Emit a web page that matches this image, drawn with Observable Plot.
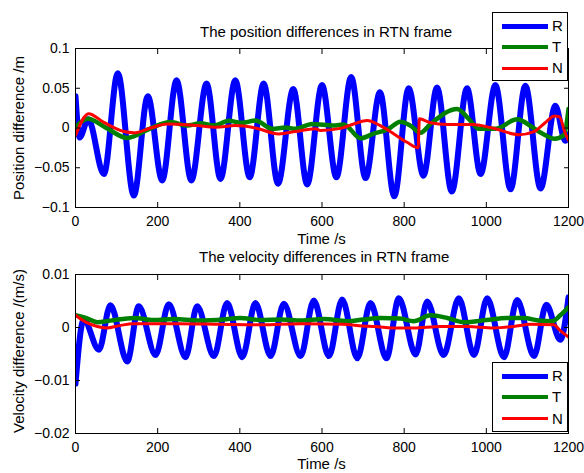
<!DOCTYPE html>
<html>
<head>
<meta charset="utf-8">
<script src="https://cdn.jsdelivr.net/npm/d3@7"></script>
<script src="https://cdn.jsdelivr.net/npm/@observablehq/plot@0.6"></script>
<style>
  html, body { margin: 0; padding: 0; background: #fff; }
  body { font-family: "Liberation Sans", Arial, Helvetica, sans-serif; color: #000; }
  #fig { position: relative; width: 584px; height: 473px; overflow: hidden; background: #fff; }
  .panel { position: absolute; left: 0; }
  .panel svg { display: block; }
  .txt { position: absolute; font-size: 15px; line-height: 15px; white-space: nowrap; }
  .center { transform: translateX(-50%); }
  .ylab { position: absolute; font-size: 15px; line-height: 15px; white-space: nowrap; transform: translate(-50%, -50%) rotate(-90deg); }
  .legend { position: absolute; box-sizing: border-box; border: 1px solid #000; background: #fff; }
  .legend .sample { position: absolute; left: 9px; width: 46px; }
  .legend .name { position: absolute; left: 59px; font-size: 15px; line-height: 15px; }
</style>
</head>
<body>
<div id="fig"></div>
<script>
// ---------- data ----------
const timeTicks = [0, 200, 400, 600, 800, 1000, 1200];
const timeTickLabels = ["0", "200", "400", "600", "800", "1000", "1200"];
const posTicks = [-0.1, -0.05, 0, 0.05, 0.1];
const posTickLabels = ["\u22120.1", "\u22120.05", "0", "0.05", "0.1"];
const velTicks = [-0.02, -0.01, 0, 0.01];
const velTickLabels = ["\u22120.02", "\u22120.01", "0", "0.01"];

const seriesNames = ["R", "T", "N"];
const seriesColors = ["#0000ff", "#008000", "#ff0000"];
const lineWidths = [6, 4.5, 3];
const legendWidths = [5, 4, 3];

// Position differences (m)
const posR_t = [0, 10, 31, 69, 103, 142, 176, 211, 246, 282, 319, 353, 389, 424, 458, 493, 530, 564, 600, 635, 671, 706, 741, 776, 811, 847, 880, 916, 953, 986, 1022, 1059, 1095, 1132, 1168, 1192, 1200];
const posR_v = [0.040, -0.012, 0.011, -0.058, 0.069, -0.085, 0.040, -0.066, 0.060, -0.066, 0.056, -0.064, 0.060, -0.062, 0.056, -0.070, 0.049, -0.071, 0.054, -0.062, 0.064, -0.063, 0.045, -0.086, 0.050, -0.060, 0.051, -0.080, 0.050, -0.058, 0.054, -0.077, 0.053, -0.076, 0.028, -0.016, -0.008];

const posT_t = [0, 30, 75, 126, 180, 231, 272, 304, 337, 373, 406, 438, 479, 511, 535, 576, 629, 653, 694, 726, 759, 791, 815, 840, 864, 929, 957, 982, 1022, 1075, 1112, 1136, 1166, 1189, 1200];
const posT_v = [0.001, 0.0115, 0.000, -0.0125, -0.001, 0.0075, 0.003, 0.006, 0.003, 0.009, 0.0065, 0.0095, -0.001, 0.0005, -0.001, 0.005, 0.003, 0.0045, -0.013, -0.007, -0.002, 0.008, 0.003, -0.006, 0.005, 0.024, 0.0115, -0.001, -0.001, 0.011, 0.001, -0.007, -0.0135, -0.009, 0.024];

const posN_t = [0, 32, 69, 118, 142, 183, 223, 296, 341, 389, 438, 495, 535, 584, 596, 645, 677, 710, 742, 775, 807, 834, 837, 864, 905, 966, 1022, 1079, 1116, 1144, 1166, 1178, 1191, 1200];
const posN_v = [-0.0095, 0.018, 0.007, -0.0045, -0.006, 0.000, 0.005, 0.003, 0.001, 0.003, 0.000, -0.0075, -0.0045, -0.001, -0.003, -0.0005, 0.005, 0.0095, 0.003, -0.0075, -0.018, -0.025, 0.0115, 0.0065, 0.0045, 0.0044, -0.001, -0.0085, -0.0045, 0.007, 0.015, 0.014, -0.005, -0.0155];

// Velocity differences (m/s)
const velR_t = [0, 20, 57, 85, 126, 154, 195, 227, 268, 296, 337, 369, 406, 438, 475, 507, 548, 580, 617, 649, 686, 718, 757, 787, 828, 856, 896, 933, 970, 1002, 1043, 1075, 1116, 1146, 1180, 1200];
const velR_v = [-0.0106, 0.0015, -0.0042, 0.0042, -0.0064, 0.0040, -0.0052, 0.0044, -0.0056, 0.0040, -0.0054, 0.0046, -0.0056, 0.0046, -0.0054, 0.0045, -0.0054, 0.0051, -0.0054, 0.0053, -0.0058, 0.0046, -0.0058, 0.0055, -0.0051, 0.0049, -0.0052, 0.0055, -0.0052, 0.0055, -0.0056, 0.0052, -0.0054, 0.0043, -0.0023, 0.0057];

const velT_t = [0, 25, 53, 85, 142, 190, 240, 300, 360, 400, 450, 500, 550, 604, 661, 700, 742, 790, 823, 864, 905, 945, 1000, 1050, 1090, 1130, 1160, 1180, 1200];
const velT_v = [0.0023, 0.0018, 0.0010, 0.0013, 0.0018, 0.0014, 0.0016, 0.0013, 0.0015, 0.0018, 0.0014, 0.0015, 0.0013, 0.0016, 0.0012, 0.0015, 0.0018, 0.0017, 0.0012, 0.0023, 0.0018, 0.0010, 0.0014, 0.0018, 0.0018, 0.0013, 0.0012, 0.0023, 0.0038];

const velN_t = [0, 25, 53, 75, 110, 140, 250, 350, 450, 550, 650, 700, 726, 787, 823, 888, 953, 1018, 1067, 1107, 1164, 1180, 1200];
const velN_v = [0.0023, 0.0010, 0.0002, -0.0001, 0.0004, 0.0007, 0.0007, 0.0006, 0.0005, 0.0007, 0.0006, 0.0003, 0.0002, -0.0001, -0.0001, 0.0002, 0.0002, -0.0001, 0.0002, 0.0006, 0.0005, -0.0006, -0.0018];

// ---------- drawing ----------
const FONT = '"Liberation Sans", Arial, Helvetica, sans-serif';
const pick = (ticks, labels) => d => { const i = ticks.indexOf(d); return i < 0 ? "" : labels[i]; };
const rows = (ts, vs) => ts.map((t, i) => ({t, v: vs[i]}));

function panel({height, marginTop, marginBottom, yDomain, yTicks, yTickLabels, series}) {
  return Plot.plot({
    width: 584,
    height,
    marginLeft: 75,
    marginRight: 16,
    marginTop,
    marginBottom,
    style: {fontFamily: FONT, fontSize: "14px", color: "#000", background: "transparent", overflow: "visible"},
    x: {type: "linear", domain: [0, 1200]},
    y: {type: "linear", domain: yDomain},
    marks: [
      ...series.map((s, k) => Plot.line(rows(s[0], s[1]), {
        x: "t", y: "v",
        stroke: seriesColors[k],
        strokeWidth: lineWidths[k],
        curve: "monotone-x",
        clip: true
      })),
      Plot.frame({stroke: "#000", strokeWidth: 1}),
      Plot.axisX({anchor: "bottom", ticks: timeTicks, tickSize: 0, tickPadding: 8.5, tickFormat: pick(timeTicks, timeTickLabels), label: null}),
      Plot.axisX({anchor: "bottom", ticks: timeTicks, tickSize: -5, tickFormat: () => "", label: null}),
      Plot.axisX({anchor: "top", ticks: timeTicks, tickSize: -5, tickFormat: () => "", label: null}),
      Plot.axisY({anchor: "left", ticks: yTicks, tickSize: 0, tickPadding: 6, tickFormat: pick(yTicks, yTickLabels), label: null}),
      Plot.axisY({anchor: "left", ticks: yTicks, tickSize: -5, tickFormat: () => "", label: null}),
      Plot.axisY({anchor: "right", ticks: yTicks, tickSize: -5, tickFormat: () => "", label: null})
    ]
  });
}

const fig = document.getElementById("fig");

function addPanel(top, svg) {
  const d = document.createElement("div");
  d.className = "panel";
  d.style.top = top + "px";
  d.appendChild(svg);
  fig.appendChild(d);
}

addPanel(0, panel({
  height: 240, marginTop: 48, marginBottom: 33,
  yDomain: [-0.1, 0.1], yTicks: posTicks, yTickLabels: posTickLabels,
  series: [[posR_t, posR_v], [posT_t, posT_v], [posN_t, posN_v]]
}));

addPanel(240, panel({
  height: 233, marginTop: 34, marginBottom: 40,
  yDomain: [-0.02, 0.01], yTicks: velTicks, yTickLabels: velTickLabels,
  series: [[velR_t, velR_v], [velT_t, velT_v], [velN_t, velN_v]]
}));

function addText(cls, text, left, top) {
  const d = document.createElement("div");
  d.className = cls;
  d.textContent = text;
  d.style.left = left + "px";
  d.style.top = top + "px";
  fig.appendChild(d);
}

// titles and axis labels
addText("txt", "The position differences in RTN frame", 200, 24);
addText("txt", "The velocity differences in RTN frame", 199, 248.7);
addText("txt center", "Time /s", 321.5, 231.3);
addText("txt center", "Time /s", 321.5, 456.3);
addText("ylab", "Position difference /m", 18, 128);
addText("ylab", "Velocity difference /(m/s)", 18, 351);

// legends
function addLegend(left, top, width, height, rowYs) {
  const box = document.createElement("div");
  box.className = "legend";
  Object.assign(box.style, {left: left + "px", top: top + "px", width: width + "px", height: height + "px"});
  seriesNames.forEach((name, k) => {
    const s = document.createElement("div");
    s.className = "sample";
    s.style.background = seriesColors[k];
    s.style.height = legendWidths[k] + "px";
    s.style.top = (rowYs[k] - legendWidths[k] / 2) + "px";
    box.appendChild(s);
    const n = document.createElement("div");
    n.className = "name";
    n.textContent = name;
    n.style.top = (rowYs[k] - 8) + "px";
    box.appendChild(n);
  });
  fig.appendChild(box);
}
addLegend(492, 12, 76, 69, [13, 34, 55]);
addLegend(492, 362, 76, 70, [13, 34, 55.5]);
</script>
</body>
</html>
